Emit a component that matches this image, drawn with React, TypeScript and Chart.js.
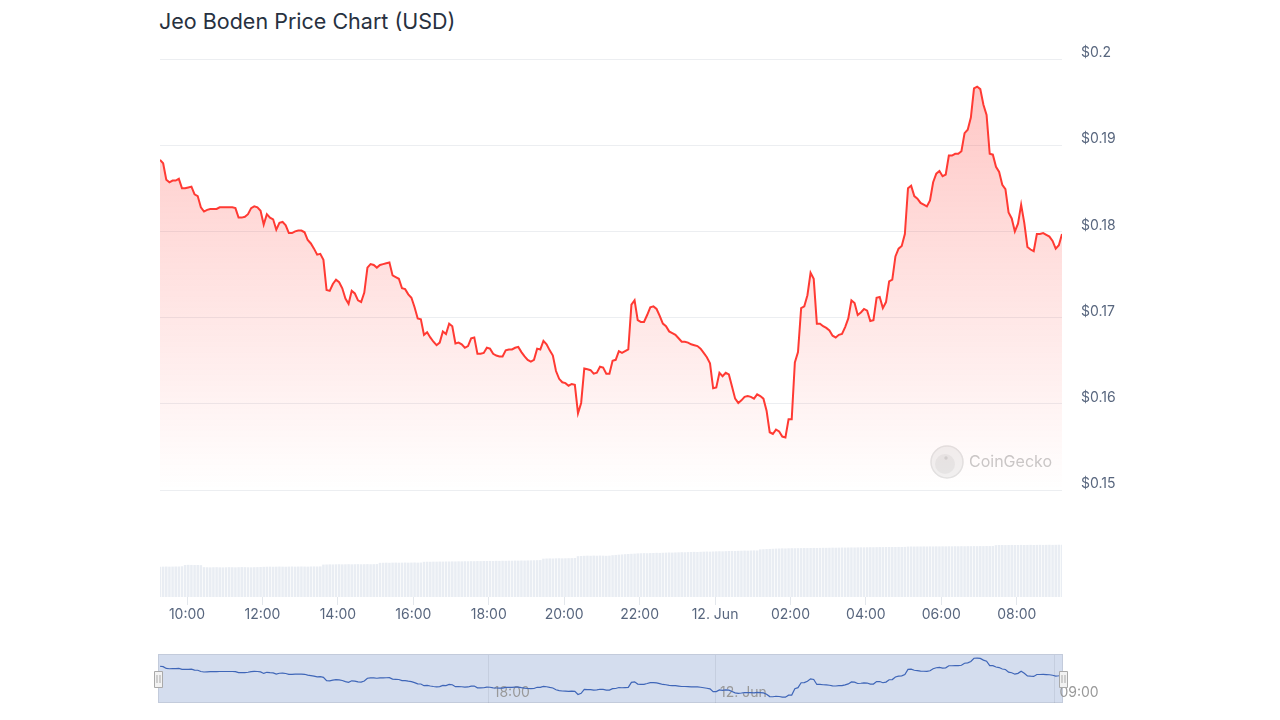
import React, { useEffect, useRef } from 'react';
import { Chart, registerables } from 'chart.js';

Chart.register(...registerables);

const TITLE = 'Jeo Boden Price Chart (USD)';
const WATERMARK = 'CoinGecko';

// 5-minute samples starting at 09:17 (hours since 00:00 of 11 Jun)
const START_HOUR = 9 + 17 / 60;
const STEP_HOURS = 5 / 60;

const prices = [
  0.1883, 0.1879, 0.1860, 0.1857, 0.1859, 0.1859, 0.1861, 0.1850, 0.1850, 0.1851, 0.1852, 0.1843,
  0.1841, 0.1828, 0.1823, 0.1825, 0.1826, 0.1826, 0.1826, 0.1828, 0.1828, 0.1828, 0.1828, 0.1828,
  0.1827, 0.1816, 0.1816, 0.1817, 0.1820, 0.1827, 0.1829, 0.1828, 0.1824, 0.1808, 0.1820, 0.1816,
  0.1814, 0.1802, 0.1810, 0.1811, 0.1807, 0.1798, 0.1798, 0.1800, 0.1801, 0.1801, 0.1799, 0.1790,
  0.1786, 0.1780, 0.1773, 0.1774, 0.1767, 0.1732, 0.1731, 0.1739, 0.1744, 0.1741, 0.1734, 0.1722,
  0.1716, 0.1731, 0.1728, 0.1720, 0.1718, 0.1729, 0.1758, 0.1762, 0.1761, 0.1758, 0.1761, 0.1762,
  0.1763, 0.1764, 0.1749, 0.1747, 0.1745, 0.1734, 0.1733, 0.1727, 0.1723, 0.1712, 0.1699, 0.1698,
  0.1680, 0.1683, 0.1677, 0.1672, 0.1668, 0.1671, 0.1684, 0.1681, 0.1693, 0.1690, 0.1670, 0.1671,
  0.1669, 0.1665, 0.1667, 0.1676, 0.1677, 0.1658, 0.1658, 0.1659, 0.1665, 0.1664, 0.1658, 0.1656,
  0.1655, 0.1655, 0.1662, 0.1663, 0.1663, 0.1665, 0.1666, 0.1660, 0.1655, 0.1651, 0.1649, 0.1651,
  0.1664, 0.1663, 0.1673, 0.1669, 0.1662, 0.1656, 0.1638, 0.1629, 0.1625, 0.1624, 0.1621, 0.1623,
  0.1622, 0.1589, 0.1601, 0.1641, 0.1640, 0.1639, 0.1635, 0.1636, 0.1643, 0.1642, 0.1635, 0.1635,
  0.1650, 0.1651, 0.1661, 0.1659, 0.1661, 0.1663, 0.1715, 0.1720, 0.1697, 0.1695, 0.1695, 0.1703,
  0.1712, 0.1713, 0.1710, 0.1702, 0.1693, 0.1690, 0.1684, 0.1682, 0.1680, 0.1676, 0.1672, 0.1672,
  0.1671, 0.1669, 0.1668, 0.1667, 0.1664, 0.1659, 0.1654, 0.1647, 0.1618, 0.1619, 0.1636, 0.1632,
  0.1636, 0.1634, 0.1620, 0.1606, 0.1601, 0.1604, 0.1608, 0.1609, 0.1608, 0.1606, 0.1611, 0.1609,
  0.1606, 0.1592, 0.1567, 0.1565, 0.1570, 0.1568, 0.1562, 0.1561, 0.1582, 0.1582, 0.1648, 0.1660,
  0.1711, 0.1713, 0.1726, 0.1752, 0.1745, 0.1693, 0.1693, 0.1690, 0.1688, 0.1685, 0.1679, 0.1677,
  0.1680, 0.1681, 0.1689, 0.1699, 0.1720, 0.1717, 0.1703, 0.1706, 0.1710, 0.1708, 0.1696, 0.1697,
  0.1723, 0.1724, 0.1711, 0.1718, 0.1742, 0.1744, 0.1771, 0.1780, 0.1783, 0.1797, 0.1850, 0.1853,
  0.1841, 0.1838, 0.1833, 0.1831, 0.1829, 0.1836, 0.1857, 0.1867, 0.1870, 0.1864, 0.1866, 0.1888,
  0.1888, 0.1890, 0.1890, 0.1893, 0.1914, 0.1918, 0.1932, 0.1966, 0.1968, 0.1965, 0.1947, 0.1935,
  0.1890, 0.1889, 0.1875, 0.1869, 0.1854, 0.1849, 0.1822, 0.1815, 0.1800, 0.1809, 0.1831, 0.1810,
  0.1782, 0.1779, 0.1777, 0.1797, 0.1797, 0.1798, 0.1796, 0.1794, 0.1789, 0.1780, 0.1784, 0.1797,
];

// trading volume, thousand USD
const volumes = [
  75.6, 75.9, 76.1, 75.8, 76.0, 76.3, 76.2, 76.8, 80.1, 80.4, 80.2, 79.9,
  80.0, 79.6, 74.6, 74.3, 74.1, 74.4, 74.5, 74.2, 74.0, 74.3, 74.6, 74.4,
  74.2, 74.5, 74.8, 74.6, 74.3, 74.2, 74.5, 74.7, 74.9, 75.4, 75.7, 75.9,
  75.6, 75.8, 76.1, 75.9, 75.7, 76.0, 76.2, 75.9, 76.1, 76.3, 76.1, 75.9,
  76.2, 76.4, 76.2, 76.5, 81.0, 81.3, 81.6, 81.4, 81.7, 81.9, 81.6, 81.8,
  82.0, 81.7, 81.9, 82.1, 81.8, 82.0, 82.2, 81.9, 82.1, 82.3, 85.4, 85.6,
  85.8, 85.5, 85.9, 86.0, 85.7, 85.9, 86.1, 85.8, 86.0, 86.2, 85.9, 86.1,
  88.0, 88.2, 88.1, 88.4, 88.3, 88.6, 88.5, 88.8, 88.7, 89.0, 88.9, 89.2,
  89.1, 89.4, 89.3, 89.6, 89.5, 89.8, 89.7, 90.0, 89.9, 90.2, 90.1, 90.4,
  90.3, 90.6, 90.5, 90.8, 90.7, 91.0, 90.9, 91.2, 91.1, 91.4, 91.6, 91.8,
  92.0, 92.3, 95.8, 96.2, 96.5, 96.3, 96.7, 96.9, 96.6, 96.8, 97.0, 97.2,
  97.4, 102.0, 102.6, 103.0, 103.4, 103.1, 103.5, 103.2, 103.6, 103.3, 103.0, 103.4,
  104.5, 105.2, 105.8, 106.4, 107.0, 107.5, 108.0, 108.4, 109.0, 109.3, 109.6, 109.4,
  109.8, 110.1, 110.4, 110.2, 110.6, 110.9, 111.2, 111.0, 111.4, 111.7, 112.0, 111.8,
  112.2, 112.5, 112.8, 112.6, 113.0, 113.3, 113.6, 113.4, 113.8, 114.1, 114.4, 114.2,
  114.6, 114.9, 115.2, 115.0, 115.4, 115.7, 116.0, 115.8, 116.2, 116.5, 116.3, 119.0,
  119.4, 119.8, 120.2, 120.6, 121.0, 121.3, 121.6, 121.4, 121.8, 122.0, 121.9, 122.1,
  122.2, 122.4, 122.3, 122.5, 122.7, 122.6, 122.8, 123.0, 122.9, 123.1, 123.3, 123.2,
  123.4, 123.6, 123.5, 123.7, 123.9, 123.8, 124.0, 124.2, 124.1, 124.3, 124.5, 124.4,
  124.6, 124.8, 124.7, 124.9, 125.0, 124.9, 125.1, 125.2, 125.1, 125.3, 126.0, 126.2,
  126.1, 126.3, 126.2, 126.4, 126.3, 126.5, 126.4, 126.6, 126.5, 126.7, 126.6, 126.8,
  126.7, 126.9, 126.8, 127.0, 126.9, 127.1, 127.0, 127.2, 127.1, 127.3, 127.2, 127.4,
  127.3, 127.5, 129.6, 129.9, 130.1, 129.8, 130.0, 130.2, 129.9, 130.1, 130.3, 130.0,
  130.2, 130.4, 130.1, 130.3, 130.5, 130.2, 130.4, 130.6, 130.3, 130.5, 130.7, 130.4,
];

const xTickHours = [10, 12, 14, 16, 18, 20, 22, 24, 26, 28, 30, 32];
const xTickLabels = ['10:00', '12:00', '14:00', '16:00', '18:00', '20:00', '22:00', '12. Jun', '02:00', '04:00', '06:00', '08:00'];
const yTickValues = [0.15, 0.16, 0.17, 0.18, 0.19, 0.2];
const yTickLabels = ['$0.15', '$0.16', '$0.17', '$0.18', '$0.19', '$0.2'];
const navTickHours = [18, 24, 33];
const navTickLabels = ['18:00', '12. Jun', '09:00'];

const X_MIN = START_HOUR;
const X_MAX = START_HOUR + (prices.length - 1) * STEP_HOURS;
const FONT = 'Inter, "Noto Sans", sans-serif';
const LABEL_COLOR = '#58667e';
const RED = '#ff3a33';

const labelFor = (values: number[], labels: string[], v: number) => {
  const i = values.findIndex((t) => Math.abs(t - v) < 1e-9);
  return i >= 0 ? labels[i] : '';
};

const watermarkPlugin = {
  id: 'watermark',
  beforeDatasetsDraw(chart: any) {
    const { ctx, chartArea } = chart;
    const cx = chartArea.right - 115;
    const cy = chartArea.bottom - 28;
    ctx.save();
    ctx.beginPath();
    ctx.arc(cx, cy, 16, 0, Math.PI * 2);
    ctx.fillStyle = '#f1f1f1';
    ctx.fill();
    ctx.lineWidth = 1.5;
    ctx.strokeStyle = '#e2e2e2';
    ctx.stroke();
    ctx.beginPath();
    ctx.arc(cx - 2, cy + 2, 10, 0, Math.PI * 2);
    ctx.fillStyle = '#e6e6e6';
    ctx.fill();
    ctx.beginPath();
    ctx.arc(cx - 1, cy - 4, 1.7, 0, Math.PI * 2);
    ctx.fillStyle = '#d0d0d0';
    ctx.fill();
    ctx.font = `16px ${FONT}`;
    ctx.fillStyle = '#c9c9c9';
    ctx.textBaseline = 'middle';
    ctx.textAlign = 'left';
    ctx.fillText(WATERMARK, cx + 22, cy);
    ctx.restore();
  },
};

const navigatorPlugin = {
  id: 'navigatorMask',
  beforeDraw(chart: any) {
    const { ctx, chartArea } = chart;
    ctx.save();
    ctx.fillStyle = 'rgba(102,133,194,0.28)';
    ctx.fillRect(chartArea.left - 2, chartArea.top, chartArea.right - chartArea.left + 3, chartArea.bottom - chartArea.top);
    ctx.strokeStyle = '#c3cbdb';
    ctx.lineWidth = 1;
    ctx.strokeRect(chartArea.left - 1.5, chartArea.top - 0.5, chartArea.right - chartArea.left + 2, chartArea.bottom - chartArea.top);
    ctx.restore();
  },
  afterDraw(chart: any) {
    const { ctx, chartArea } = chart;
    const cy = (chartArea.top + chartArea.bottom) / 2;
    const handles = [chartArea.left - 2, chartArea.right + 1];
    ctx.save();
    handles.forEach((hx) => {
      const x = Math.round(hx) + 0.5;
      ctx.fillStyle = '#f2f2f2';
      ctx.strokeStyle = '#a9a9a9';
      ctx.lineWidth = 1;
      ctx.beginPath();
      ctx.rect(x - 4, Math.round(cy - 8) + 0.5, 8, 16);
      ctx.fill();
      ctx.stroke();
      ctx.beginPath();
      ctx.moveTo(x - 1.5, cy - 4);
      ctx.lineTo(x - 1.5, cy + 4);
      ctx.moveTo(x + 1.5, cy - 4);
      ctx.lineTo(x + 1.5, cy + 4);
      ctx.stroke();
    });
    ctx.restore();
  },
};

export default function App() {
  const priceRef = useRef<HTMLCanvasElement>(null);
  const volRef = useRef<HTMLCanvasElement>(null);
  const navRef = useRef<HTMLCanvasElement>(null);

  useEffect(() => {
    const priceData = prices.map((p, i) => ({ x: START_HOUR + i * STEP_HOURS, y: p }));
    const volData = volumes.map((v, i) => ({ x: START_HOUR + i * STEP_HOURS, y: v }));

    const priceChart = new Chart(priceRef.current as HTMLCanvasElement, {
      type: 'line',
      data: {
        datasets: [
          {
            data: priceData,
            borderColor: RED,
            borderWidth: 2,
            pointRadius: 0,
            tension: 0,
            fill: 'start',
            backgroundColor: (c: any) => {
              const area = c.chart.chartArea;
              if (!area) return 'rgba(255,58,51,0.15)';
              const g = c.chart.ctx.createLinearGradient(0, area.top, 0, area.bottom);
              g.addColorStop(0, 'rgba(255,58,51,0.30)');
              g.addColorStop(1, 'rgba(255,58,51,0.0)');
              return g;
            },
          },
        ],
      },
      options: {
        animation: false,
        responsive: false,
        layout: { padding: { left: 10, top: 19, bottom: 10, right: 0 } },
        plugins: { legend: { display: false }, tooltip: { enabled: false } },
        scales: {
          x: { type: 'linear', min: X_MIN, max: X_MAX, display: false },
          y: {
            position: 'right',
            min: 0.15,
            max: 0.2,
            afterFit: (s: any) => {
              s.width = 68;
              s.paddingTop = 0;
              s.paddingBottom = 0;
            },
            afterBuildTicks: (s: any) => {
              s.ticks = yTickValues.map((v) => ({ value: v }));
            },
            grid: { color: '#eceef1', drawTicks: false },
            border: { display: false },
            ticks: {
              padding: 19,
              labelOffset: -6,
              color: LABEL_COLOR,
              font: { family: FONT, size: 14 },
              callback: (v: any) => labelFor(yTickValues, yTickLabels, Number(v)),
            },
          },
        },
      } as any,
      plugins: [watermarkPlugin],
    });

    const volChart = new Chart(volRef.current as HTMLCanvasElement, {
      type: 'bar',
      data: {
        datasets: [
          {
            data: volData,
            backgroundColor: '#e9edf3',
            borderWidth: 0,
            barPercentage: 0.8,
            categoryPercentage: 1,
          },
        ],
      },
      options: {
        animation: false,
        responsive: false,
        layout: { padding: { left: 10, right: 68, top: 0, bottom: 0 } },
        plugins: { legend: { display: false }, tooltip: { enabled: false } },
        scales: {
          x: {
            type: 'linear',
            min: X_MIN,
            max: X_MAX,
            offset: false,
            afterFit: (s: any) => {
              s.height = 40;
            },
            afterBuildTicks: (s: any) => {
              s.ticks = xTickHours.map((v) => ({ value: v }));
            },
            grid: { offset: false, drawOnChartArea: false, drawTicks: true, tickLength: 8, color: '#e3e7ec' },
            border: { display: false },
            ticks: {
              padding: 1.5,
              autoSkip: false,
              maxRotation: 0,
              color: LABEL_COLOR,
              font: { family: FONT, size: 14 },
              callback: (v: any) => labelFor(xTickHours, xTickLabels, Number(v)),
            },
          },
          y: { display: false, min: 0, max: 250 },
        },
      } as any,
    });

    const navChart = new Chart(navRef.current as HTMLCanvasElement, {
      type: 'line',
      data: {
        datasets: [
          {
            data: priceData,
            borderColor: '#3f66b8',
            borderWidth: 1.2,
            pointRadius: 0,
            tension: 0,
            fill: false,
          },
        ],
      },
      options: {
        animation: false,
        responsive: false,
        layout: { padding: { left: 10, right: 68, top: 10, bottom: 7 } },
        plugins: { legend: { display: false }, tooltip: { enabled: false } },
        scales: {
          x: {
            type: 'linear',
            min: X_MIN,
            max: X_MAX,
            afterFit: (s: any) => {
              s.height = 10;
            },
            afterBuildTicks: (s: any) => {
              s.ticks = navTickHours.map((v) => ({ value: v }));
            },
            grid: { drawTicks: false, color: 'rgba(60,70,90,0.10)' },
            border: { display: false },
            ticks: {
              mirror: true,
              align: 'start',
              padding: 2,
              labelOffset: 5,
              autoSkip: false,
              maxRotation: 0,
              color: '#999999',
              font: { family: FONT, size: 14 },
              callback: (v: any) => labelFor(navTickHours, navTickLabels, Number(v)),
            },
          },
          y: { display: false, min: 0.15, max: 0.2 },
        },
      } as any,
      plugins: [navigatorPlugin],
    });

    return () => {
      priceChart.destroy();
      volChart.destroy();
      navChart.destroy();
    };
  }, []);

  return (
    <div style={{ position: 'absolute', left: 0, top: 0, width: 1280, height: 720, background: '#ffffff', overflow: 'hidden' }}>
      <div
        style={{
          position: 'absolute',
          left: 159,
          top: 9,
          fontFamily: FONT,
          fontSize: 21.5,
          lineHeight: '25px',
          color: '#273140',
          whiteSpace: 'nowrap',
        }}
      >
        {TITLE}
      </div>
      <canvas ref={volRef} width={980} height={140} style={{ position: 'absolute', left: 150, top: 497 }} />
      <canvas ref={priceRef} width={980} height={460} style={{ position: 'absolute', left: 150, top: 40 }} />
      <canvas ref={navRef} width={980} height={75} style={{ position: 'absolute', left: 150, top: 645 }} />
    </div>
  );
}
